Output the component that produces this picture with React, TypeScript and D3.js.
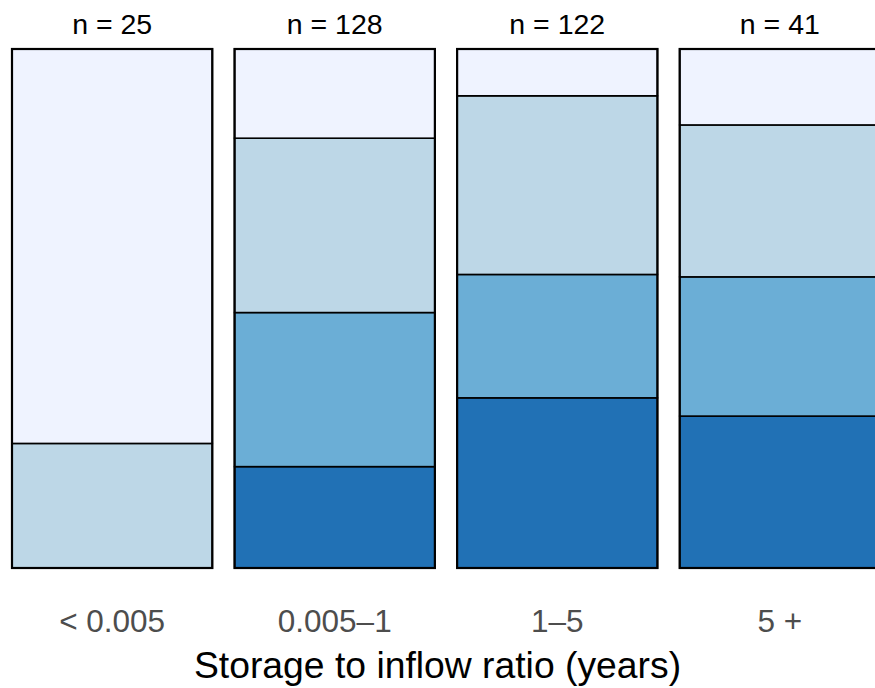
import React, { useEffect, useRef } from 'react';
import * as d3 from 'd3';

// storage-to-inflow classes, counts per class (bottom segment first)
const categories = ['< 0.005', '0.005\u20131', '1\u20135', '5 +'];
const levels = ['dark', 'medium', 'light', 'lightest'];
const darkCounts = [0, 25, 40, 12];
const mediumCounts = [0, 38, 29, 11];
const lightCounts = [6, 43, 42, 12];
const lightestCounts = [19, 22, 11, 6];
const colors = ['#2171b5', '#6baed6', '#bdd7e7', '#eff3ff'];

const W = 875;
const H = 688;

const App: React.FC = () => {
  const svgRef = useRef<SVGSVGElement>(null);

  useEffect(() => {
    if (!svgRef.current) return;
    const svg = d3.select(svgRef.current);
    svg.selectAll('*').remove();

    const x = d3.scaleBand<string>().domain(categories).range([12, 880]).paddingInner(0.1);
    const y = d3.scaleLinear().domain([0, 1]).range([568, 49]);
    const color = d3.scaleOrdinal<string, string>().domain(levels).range(colors);

    const series = [darkCounts, mediumCounts, lightCounts, lightestCounts];

    categories.forEach((cat, i) => {
      const counts = series.map(s => s[i]);
      const total = d3.sum(counts);
      let cum = 0;
      const g = svg.append('g');
      counts.forEach((c, j) => {
        if (c === 0) return;
        const y0 = cum / total;
        cum += c;
        const y1 = cum / total;
        g.append('rect')
          .attr('x', x(cat)!)
          .attr('width', x.bandwidth())
          .attr('y', y(y1))
          .attr('height', y(y0) - y(y1))
          .attr('fill', color(levels[j]))
          .attr('stroke', '#000')
          .attr('stroke-width', 1.6);
      });
      // outer frame
      g.append('rect')
        .attr('x', x(cat)!)
        .attr('width', x.bandwidth())
        .attr('y', y(1))
        .attr('height', y(0) - y(1))
        .attr('fill', 'none')
        .attr('stroke', '#000')
        .attr('stroke-width', 2.2);

      svg.append('text')
        .attr('x', x(cat)! + x.bandwidth() / 2)
        .attr('y', 34)
        .attr('text-anchor', 'middle')
        .attr('font-family', 'Liberation Sans, Arial, sans-serif')
        .attr('font-size', 28.5)
        .attr('fill', '#000')
        .text(`n = ${total}`);
    });

    // x tick labels
    const axis = svg.append('g').attr('transform', 'translate(0,568)')
      .call(d3.axisBottom(x).tickSize(0).tickPadding(0));
    axis.select('.domain').remove();
    axis.selectAll('text')
      .attr('dy', null)
      .attr('y', 64)
      .attr('font-family', 'Liberation Sans, Arial, sans-serif')
      .attr('font-size', 31.5)
      .attr('fill', '#4d4d4d');

    svg.append('text')
      .attr('x', W / 2)
      .attr('y', 678)
      .attr('text-anchor', 'middle')
      .attr('font-family', 'Liberation Sans, Arial, sans-serif')
      .attr('font-size', 37.3)
      .attr('fill', '#000')
      .text('Storage to inflow ratio (years)');
  }, []);

  return (
    <svg
      ref={svgRef}
      width={W}
      height={H}
      style={{ position: 'absolute', left: 0, top: 0, display: 'block', background: '#fff' }}
    />
  );
};

export default App;
